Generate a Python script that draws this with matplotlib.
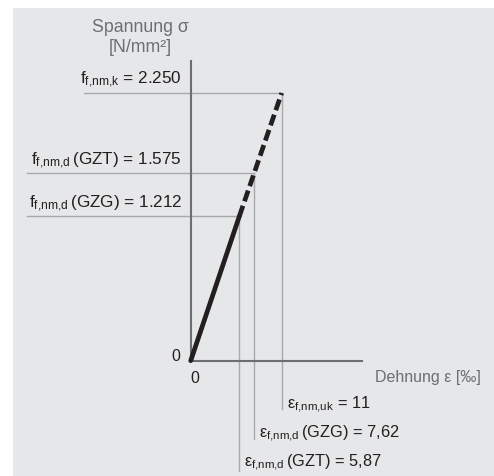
import matplotlib
matplotlib.use('Agg')
import matplotlib.pyplot as plt
from matplotlib.patches import Rectangle

plt.rcParams['font.family'] = ['Liberation Sans', 'DejaVu Sans']
plt.rcParams['mathtext.fontset'] = 'custom'
plt.rcParams['mathtext.rm'] = 'Liberation Sans'

# Kennwerte
eps_curve = [0, 5.87, 11]          # Dehnung [‰]
sig_curve = [0, 1.212, 2.25]       # Spannung [N/mm²]
sig_levels = [2.25, 1.575, 1.212]
sig_labels = [r'$\mathregular{f_{f{,}nm{,}k}}$ = 2.250',
              r'$\mathregular{f_{f{,}nm{,}d}\,}$(GZT) = 1.575',
              r'$\mathregular{f_{f{,}nm{,}d}\,}$(GZG) = 1.212']
eps_levels = [11, 7.62, 5.87]
eps_labels = [r'$\mathregular{\varepsilon_{f{,}nm{,}uk}}$ = 11',
              r'$\mathregular{\varepsilon_{f{,}nm{,}d}\,}$(GZG) = 7,62',
              r'$\mathregular{\varepsilon_{f{,}nm{,}d}\,}$(GZT) = 5,87']

bg = '#e6e7e8'
dark = '#231f20'
axc = '#6d6e70'
refc = '#a7a9ab'

W, H = 494, 477
fig = plt.figure(figsize=(W / 100, H / 100), dpi=100)
fig.patch.set_facecolor('white')
fig.add_artist(Rectangle((13 / W, 0), 1, (H - 9) / H, transform=fig.transFigure,
                         facecolor=bg, edgecolor='none', zorder=0))

ax = fig.add_axes([0, 0, 1, 1])
ax.patch.set_alpha(0)
# pixel mapping: origin at (190.7, 361.7), eps 11 -> 91 px, sigma 2.25 -> 267.7 px
sx = 91 / 11
sy = 267.7 / 2.25
ax.set_xlim(-190.7 / sx, (W - 190.7) / sx)
ax.set_ylim(-(H - 361.7) / sy, 361.7 / sy)

for s in ['top', 'right']:
    ax.spines[s].set_visible(False)
ax.spines['left'].set_position(('data', 0))
ax.spines['bottom'].set_position(('data', 0))
ax.spines['left'].set_bounds(0, 2.52)
ax.spines['bottom'].set_bounds(0, 20.7)
for s in ['left', 'bottom']:
    ax.spines[s].set_color(axc)
    ax.spines[s].set_linewidth(1.5)
ax.set_xticks([])
ax.set_yticks([])

# Hilfslinien
left_ends = [-12.9, -19.8, -19.8]
for i in range(3):
    sig = sig_levels[i]
    e = eps_curve[2] if i == 0 else (7.62 if i == 1 else 5.87)
    ax.plot([left_ends[i], e], [sig, sig], color=refc, lw=1.0, zorder=1)
    ax.text(-1.05, sig + 0.03, sig_labels[i], ha='right', va='bottom',
            fontsize=12.3, color=dark)

bottoms = [-0.406, -0.658, -0.927]
label_y = [-0.365, -0.608, -0.851]
for i in range(3):
    e = eps_levels[i]
    top = sig_levels[0] if i == 0 else (1.575 if i == 1 else 1.212)
    ax.plot([e, e], [top, bottoms[i]], color=refc, lw=1.0, zorder=1)
    ax.text(e + 0.6, label_y[i], eps_labels[i], ha='left', va='center',
            fontsize=11.8, color=dark)

# Kennlinie
ax.plot(eps_curve[:2], sig_curve[:2], color=dark, lw=3.4, solid_capstyle='round', zorder=3)
ax.plot(eps_curve[1:], sig_curve[1:], color=dark, lw=3.4, dashes=(2.4, 1.0), zorder=3)

# Achsenbeschriftung
ax.text(-6.13, 2.805, 'Spannung σ', ha='center', va='center', fontsize=12.8, color=axc)
ax.text(-6.13, 2.645, '[N/mm²]', ha='center', va='center', fontsize=12.8, color=axc)
ax.text(22.28, -0.13, 'Dehnung ε [‰]', ha='left', va='center', fontsize=11.5, color=axc)
ax.text(-1.3, 0.04, '0', ha='right', va='center', fontsize=11.5, color=dark)
ax.text(0.55, -0.145, '0', ha='center', va='center', fontsize=11.5, color=dark)

fig.savefig('out.png', dpi=100)
